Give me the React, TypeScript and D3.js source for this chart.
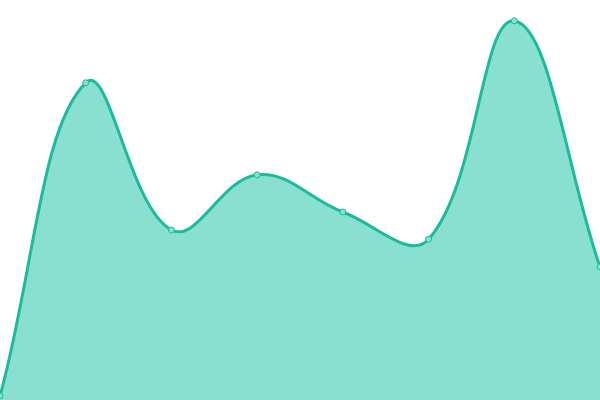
import { useRef, useEffect } from "react";
import * as d3 from "d3";

const WIDTH = 600;
const HEIGHT = 400;

const categories = ["A", "B", "C", "D", "E", "F", "G", "H"];
const values = [1, 79.3, 42.5, 56.3, 47, 40.2, 94.8, 33.3];

const LINE = "#1abc9c";
const AREA = "#8ae0d0";
const TENSION = 0.4;

// spline with tension, control points scaled by neighbour distances
function tensionCurve(context: any) {
  let pts: [number, number][] = [];
  return {
    areaStart() {},
    areaEnd() {},
    lineStart() {
      pts = [];
    },
    point(x: number, y: number) {
      pts.push([+x, +y]);
    },
    lineEnd() {
      const n = pts.length;
      if (!n) return;
      const cps = pts.map((cur, i) => {
        const prev = pts[i - 1] || cur;
        const next = pts[i + 1] || cur;
        const d01 = Math.hypot(cur[0] - prev[0], cur[1] - prev[1]);
        const d12 = Math.hypot(next[0] - cur[0], next[1] - cur[1]);
        let s01 = d01 / (d01 + d12);
        let s12 = d12 / (d01 + d12);
        if (isNaN(s01)) s01 = 0;
        if (isNaN(s12)) s12 = 0;
        const fa = TENSION * s01;
        const fb = TENSION * s12;
        const dx = next[0] - prev[0];
        const dy = next[1] - prev[1];
        return {
          inX: cur[0] - fa * dx,
          inY: cur[1] - fa * dy,
          outX: cur[0] + fb * dx,
          outY: cur[1] + fb * dy,
        };
      });
      context.moveTo(pts[0][0], pts[0][1]);
      for (let i = 1; i < n; i++) {
        context.bezierCurveTo(
          cps[i - 1].outX, cps[i - 1].outY,
          cps[i].inX, cps[i].inY,
          pts[i][0], pts[i][1]
        );
      }
    },
  };
}

export default function App() {
  const svgRef = useRef<SVGSVGElement>(null);

  useEffect(() => {
    document.body.style.margin = "0";
    if (!svgRef.current) return;
    const svg = d3.select(svgRef.current);
    svg.selectAll("*").remove();

    const data = categories.map((c, i) => ({ c, i, v: values[i] }));

    const x = d3.scaleLinear().domain([0, categories.length - 1]).range([0, WIDTH]);
    const y = d3.scaleLinear().domain([0, 100]).range([HEIGHT, 0]);

    const line = d3.line<{ i: number; v: number }>()
      .x((d) => x(d.i))
      .y((d) => y(d.v))
      .curve(tensionCurve as any);

    const linePath = line(data) || "";
    const areaPath =
      linePath +
      `L${x(categories.length - 1)},${y(0)}L${x(0)},${y(0)}Z`;

    svg.append("path").attr("fill", AREA).attr("d", areaPath);

    svg.append("path")
      .attr("fill", "none")
      .attr("stroke", LINE)
      .attr("stroke-width", 3)
      .attr("d", linePath);

    svg.selectAll("circle.pt")
      .data(data)
      .join("circle")
      .attr("class", "pt")
      .attr("cx", (d) => x(d.i))
      .attr("cy", (d) => y(d.v))
      .attr("r", 3)
      .attr("fill", AREA)
      .attr("stroke", LINE)
      .attr("stroke-width", 1);
  }, []);

  return <svg ref={svgRef} width={WIDTH} height={HEIGHT} style={{ display: "block" }} />;
}
